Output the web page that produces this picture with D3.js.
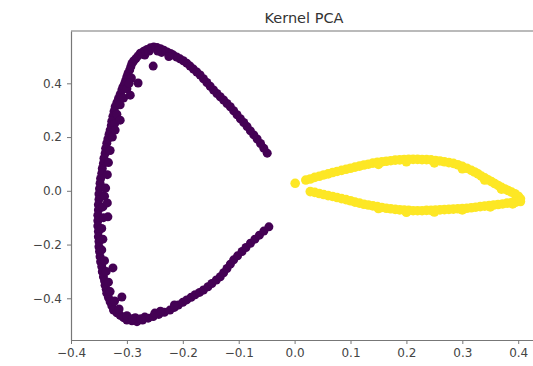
<!DOCTYPE html>
<html>
<head>
<meta charset="utf-8">
<script src="https://cdn.jsdelivr.net/npm/d3@7"></script>
<style>
  html, body { margin: 0; padding: 0; background: #fff; }
  svg { display: block; font-family: "DejaVu Sans", sans-serif; }
</style>
</head>
<body>
<svg id="chart"></svg>
<script>
// outer circle after Kernel PCA (class 0, purple)
const outerRing = [
  [-0.049,0.140],[-0.055,0.158],[-0.061,0.176],[-0.067,0.193],[-0.073,0.208],[-0.079,0.223],
  [-0.085,0.239],[-0.091,0.254],[-0.097,0.268],[-0.103,0.283],[-0.109,0.298],[-0.115,0.313],
  [-0.121,0.325],[-0.127,0.338],[-0.133,0.350],[-0.139,0.362],[-0.145,0.375],[-0.151,0.389],
  [-0.157,0.403],[-0.163,0.417],[-0.169,0.431],[-0.175,0.442],[-0.181,0.453],[-0.187,0.464],
  [-0.193,0.475],[-0.199,0.484],[-0.205,0.491],[-0.211,0.498],[-0.217,0.505],[-0.222,0.511],
  [-0.228,0.517],[-0.234,0.523],[-0.240,0.529],[-0.246,0.533],[-0.252,0.535],[-0.238,0.515],
  [-0.260,0.520],[-0.225,0.500],[-0.245,0.520],[-0.268,0.505],
  [-0.258,0.532],[-0.264,0.526],[-0.270,0.519],[-0.276,0.512],[-0.280,0.502],[-0.284,0.492],
  [-0.288,0.483],[-0.291,0.474],[-0.293,0.462],[-0.295,0.450],[-0.298,0.437],[-0.300,0.425],
  [-0.302,0.412],[-0.304,0.400],[-0.307,0.387],[-0.309,0.375],[-0.312,0.359],[-0.315,0.344],
  [-0.318,0.328],[-0.321,0.313],[-0.323,0.295],[-0.325,0.277],[-0.327,0.259],[-0.328,0.242],
  [-0.330,0.226],[-0.332,0.210],[-0.334,0.193],[-0.336,0.177],[-0.338,0.158],[-0.339,0.139],
  [-0.341,0.121],[-0.342,0.102],[-0.344,0.083],[-0.345,0.065],[-0.347,0.046],[-0.348,0.028],
  [-0.349,0.008],[-0.350,-0.012],[-0.350,-0.032],[-0.351,-0.052],[-0.351,-0.071],[-0.352,-0.091],
  [-0.352,-0.111],[-0.352,-0.131],[-0.351,-0.151],[-0.351,-0.171],[-0.350,-0.189],[-0.350,-0.208],
  [-0.349,-0.226],[-0.348,-0.245],[-0.347,-0.264],[-0.345,-0.282],[-0.344,-0.301],[-0.342,-0.320],
  [-0.340,-0.335],[-0.339,-0.351],[-0.337,-0.366],[-0.336,-0.381],[-0.333,-0.397],[-0.330,-0.413],
  [-0.327,-0.428],[-0.324,-0.444],[-0.318,-0.454],[-0.312,-0.463],[-0.306,-0.472],[-0.300,-0.481],
  [-0.291,-0.484],[-0.282,-0.487],[-0.272,-0.481],[-0.262,-0.474],[-0.253,-0.468],[-0.243,-0.460],
  [-0.233,-0.452],[-0.223,-0.444],[-0.215,-0.434],[-0.208,-0.425],[-0.200,-0.415],[-0.193,-0.406],
  [-0.185,-0.396],[-0.178,-0.387],[-0.170,-0.378],[-0.163,-0.369],[-0.155,-0.357],[-0.148,-0.345],
  [-0.140,-0.332],[-0.133,-0.320],[-0.127,-0.305],[-0.121,-0.289],[-0.115,-0.273],[-0.109,-0.257],
  [-0.102,-0.242],[-0.094,-0.226],[-0.087,-0.211],[-0.079,-0.195],[-0.071,-0.180],[-0.063,-0.165],
  [-0.055,-0.150],[-0.046,-0.134],
  // inner side of the band and stray points
  [-0.292,0.420],[-0.300,0.380],[-0.312,0.320],[-0.322,0.250],[-0.330,0.150],[-0.335,0.060],
  [-0.340,-0.020],[-0.342,-0.100],[-0.343,-0.180],[-0.340,-0.260],[-0.333,-0.340],[-0.322,-0.410],
  [-0.300,-0.465],[-0.285,-0.472],[-0.268,-0.470],[-0.250,-0.455],
  [-0.296,0.400],[-0.306,0.345],[-0.318,0.285],[-0.326,0.200],[-0.333,0.105],[-0.338,0.010],
  [-0.343,-0.060],[-0.345,-0.140],[-0.345,-0.220],[-0.337,-0.300],[-0.330,-0.375],[-0.314,-0.440],
  [-0.290,-0.476],[-0.275,-0.476],[-0.240,-0.448],[-0.215,-0.425],
  [-0.253,0.464],[-0.280,0.401],[-0.294,0.356],[-0.312,0.263],[-0.321,0.226],[-0.334,-0.097],
  [-0.335,-0.045],[-0.325,-0.287],[-0.309,-0.395]
];

// inner circle after Kernel PCA (class 1, yellow)
const innerRing = [
  [0.001,0.028],
  [0.020,0.040],[0.028,0.044],[0.036,0.050],[0.044,0.054],[0.052,0.059],[0.060,0.063],
  [0.068,0.068],[0.076,0.072],[0.084,0.076],[0.092,0.080],[0.100,0.084],[0.108,0.088],
  [0.116,0.092],[0.124,0.096],[0.132,0.099],[0.140,0.103],[0.148,0.106],[0.156,0.108],
  [0.164,0.110],[0.172,0.112],[0.180,0.114],[0.188,0.115],[0.196,0.116],[0.204,0.117],
  [0.212,0.117],[0.220,0.117],[0.228,0.116],[0.236,0.116],[0.244,0.115],[0.252,0.113],
  [0.260,0.111],[0.268,0.108],[0.276,0.105],[0.284,0.102],[0.292,0.097],[0.300,0.091],
  [0.308,0.084],[0.316,0.076],[0.322,0.070],[0.328,0.063],[0.334,0.055],[0.340,0.048],
  [0.346,0.041],[0.352,0.034],[0.358,0.027],[0.364,0.020],[0.370,0.013],[0.376,0.007],
  [0.382,0.001],[0.388,-0.005],[0.394,-0.011],[0.400,-0.020],[0.404,-0.030],[0.402,-0.038],
  [0.028,-0.003],[0.036,-0.006],[0.044,-0.010],[0.052,-0.014],[0.060,-0.018],[0.068,-0.021],
  [0.076,-0.025],[0.084,-0.029],[0.092,-0.033],[0.100,-0.037],[0.108,-0.042],[0.116,-0.046],
  [0.124,-0.050],[0.132,-0.053],[0.140,-0.056],[0.148,-0.059],[0.156,-0.062],[0.164,-0.065],
  [0.172,-0.067],[0.180,-0.069],[0.188,-0.071],[0.196,-0.072],[0.204,-0.073],[0.212,-0.074],
  [0.220,-0.074],[0.228,-0.074],[0.236,-0.073],[0.244,-0.073],[0.252,-0.072],[0.260,-0.071],
  [0.268,-0.070],[0.276,-0.069],[0.284,-0.068],[0.292,-0.067],[0.300,-0.066],[0.308,-0.065],
  [0.316,-0.063],[0.324,-0.061],[0.332,-0.059],[0.340,-0.057],[0.348,-0.055],[0.356,-0.053],
  [0.364,-0.051],[0.372,-0.049],[0.380,-0.046],[0.388,-0.044],[0.396,-0.042],[0.404,-0.040],
  [0.150,0.098],[0.200,0.108],[0.250,0.104],[0.300,0.082],[0.340,0.040],[0.370,0.006],
  [0.150,-0.066],[0.200,-0.080],[0.250,-0.079],[0.300,-0.071],[0.350,-0.060],[0.390,-0.049]
];

const xTicks = [-0.4, -0.3, -0.2, -0.1, 0.0, 0.1, 0.2, 0.3, 0.4];
const yTicks = [-0.4, -0.2, 0.0, 0.2, 0.4];
const title = "Kernel PCA";

const width = 533, height = 366;
const margin = { top: 31, right: -4, bottom: 26, left: 71 };

const svg = d3.select("#chart")
  .attr("width", width)
  .attr("height", height);

const x = d3.scaleLinear()
  .domain([-0.4, 0.4336])
  .range([margin.left, width - margin.right]);

const y = d3.scaleLinear()
  .domain([-0.5552, 0.5947])
  .range([height - margin.bottom, margin.top]);

const fmt = d => d3.format(".1f")(d).replace("-", "\u2212");

// points
const dots = svg.append("g");
dots.selectAll(".outer")
  .data(outerRing)
  .join("circle")
  .attr("class", "outer")
  .attr("cx", d => x(d[0]))
  .attr("cy", d => y(d[1]))
  .attr("r", 4.5)
  .attr("fill", "#440154");

dots.selectAll(".inner")
  .data(innerRing)
  .join("circle")
  .attr("class", "inner")
  .attr("cx", d => x(d[0]))
  .attr("cy", d => y(d[1]))
  .attr("r", 4.8)
  .attr("fill", "#fde725");

// axes
const xAxis = svg.append("g")
  .attr("transform", `translate(0,${height - margin.bottom})`)
  .call(d3.axisBottom(x).tickValues(xTicks).tickFormat(fmt).tickSize(4).tickPadding(4).tickSizeOuter(0));

const yAxis = svg.append("g")
  .attr("transform", `translate(${margin.left},0)`)
  .call(d3.axisLeft(y).tickValues(yTicks).tickFormat(fmt).tickSize(4).tickPadding(5).tickSizeOuter(0));

[xAxis, yAxis].forEach(g => {
  g.select(".domain").attr("stroke", "#777").attr("stroke-width", 1.2);
  g.selectAll(".tick line").attr("stroke", "#777").attr("stroke-width", 1);
  g.selectAll(".tick text")
    .attr("fill", "#444")
    .style("font-size", "12px")
    .style("font-family", "DejaVu Sans, sans-serif");
});

// top spine
svg.append("line")
  .attr("x1", margin.left).attr("x2", width - margin.right)
  .attr("y1", margin.top).attr("y2", margin.top)
  .attr("stroke", "#777").attr("stroke-width", 1.2);

// title
svg.append("text")
  .attr("x", (margin.left + width - margin.right) / 2)
  .attr("y", 23)
  .attr("text-anchor", "middle")
  .attr("fill", "#333")
  .style("font-size", "14.5px")
  .text(title);
</script>
</body>
</html>
